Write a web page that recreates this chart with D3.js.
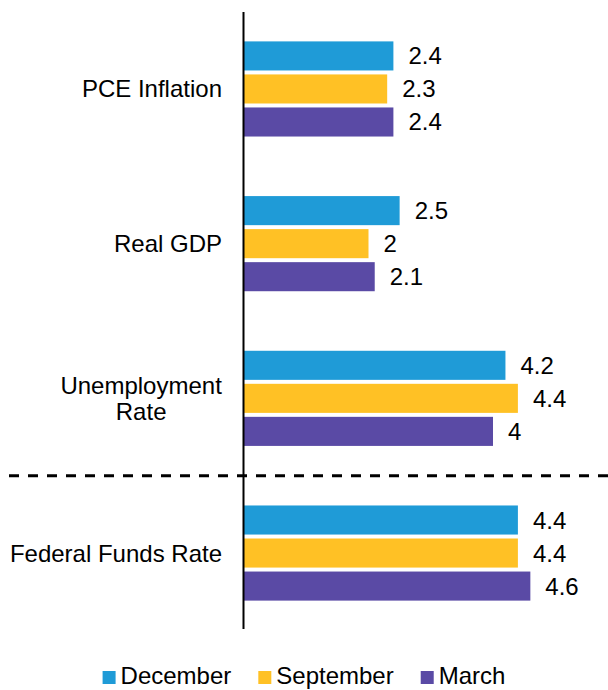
<!DOCTYPE html>
<html>
<head>
<meta charset="utf-8">
<script src="https://cdn.jsdelivr.net/npm/d3@7"></script>
<style>
  body { margin: 0; background: #fff; }
  text { font-family: "Liberation Sans", Arial, sans-serif; fill: #000; }
</style>
</head>
<body>
<script>
var width = 608, height = 690;

var categories = ["PCE Inflation", "Real GDP", "Unemployment Rate", "Federal Funds Rate"];
var series = ["December", "September", "March"];
var colors = ["#1f9bd7", "#ffc125", "#5a4aa5"];
var december = [2.4, 2.5, 4.2, 4.4];
var september = [2.3, 2.0, 4.4, 4.4];
var march = [2.4, 2.1, 4.0, 4.6];

var values = [december, september, march];
var labelLines = [["PCE Inflation"], ["Real GDP"], ["Unemployment", "Rate"], ["Federal Funds Rate"]];

var svg = d3.select("body").append("svg")
    .attr("width", width)
    .attr("height", height);

var x = d3.scaleLinear().domain([0, 5]).range([244, 244 + 62.25 * 5]);

var y0 = d3.scaleBand().domain(categories).range([12, 630])
    .paddingInner(0.385).paddingOuter(0.19);

var y1 = d3.scaleBand().domain(series).range([0, y0.bandwidth()])
    .paddingInner(0.12);

var groups = svg.selectAll(".group")
    .data(categories)
    .enter().append("g")
    .attr("class", "group")
    .attr("transform", function(d) { return "translate(0," + y0(d) + ")"; });

function rows(d, i) {
    return series.map(function(s, j) { return { s: s, j: j, v: values[j][i] }; });
}

groups.selectAll("rect")
    .data(rows)
    .enter().append("rect")
    .attr("x", x(0))
    .attr("y", function(d) { return y1(d.s); })
    .attr("width", function(d) { return x(d.v) - x(0); })
    .attr("height", y1.bandwidth())
    .attr("fill", function(d) { return colors[d.j]; });

groups.selectAll(".val")
    .data(rows)
    .enter().append("text")
    .attr("class", "val")
    .attr("x", function(d) { return x(d.v) + 15; })
    .attr("y", function(d) { return y1(d.s) + y1.bandwidth() / 2 + 8.5; })
    .style("font-size", "24px")
    .text(function(d) { return d3.format("")(d.v); });

// category labels: block right-aligned at 222, lines centred inside it
groups.each(function(d, i) {
    var lines = labelLines[i];
    var mid = y0.bandwidth() / 2;
    var lh = 26.5;
    var t = d3.select(this).append("text")
        .attr("text-anchor", "middle")
        .style("font-size", "24px");
    lines.forEach(function(line, k) {
        t.append("tspan")
            .attr("x", 0)
            .attr("y", mid + 8.5 + (k - (lines.length - 1) / 2) * lh)
            .text(line);
    });
    var w = t.node().getBBox().width;
    t.selectAll("tspan").attr("x", 222 - w / 2);
});

// vertical axis line
svg.append("line")
    .attr("x1", 243.5).attr("x2", 243.5)
    .attr("y1", 12).attr("y2", 629)
    .attr("stroke", "#000")
    .attr("stroke-width", 2);

// dashed separator
var sepY = (y0("Unemployment Rate") + y0.bandwidth() + y0("Federal Funds Rate")) / 2;
svg.append("line")
    .attr("x1", 9).attr("x2", width)
    .attr("y1", sepY).attr("y2", sepY)
    .attr("stroke", "#000")
    .attr("stroke-width", 3)
    .attr("stroke-dasharray", "10,9");

// legend
var legend = svg.append("g");
var lx = 0;
series.forEach(function(s, j) {
    var item = legend.append("g").attr("transform", "translate(" + lx + ",0)");
    item.append("rect")
        .attr("x", 0).attr("y", -13)
        .attr("width", 13).attr("height", 13)
        .attr("fill", colors[j]);
    var t = item.append("text")
        .attr("x", 18).attr("y", 0)
        .style("font-size", "24px")
        .text(s);
    lx += 18 + t.node().getComputedTextLength() + 27;
});
var lw = lx - 27;
legend.attr("transform", "translate(" + ((width - lw) / 2) + ",684)");
</script>
</body>
</html>
